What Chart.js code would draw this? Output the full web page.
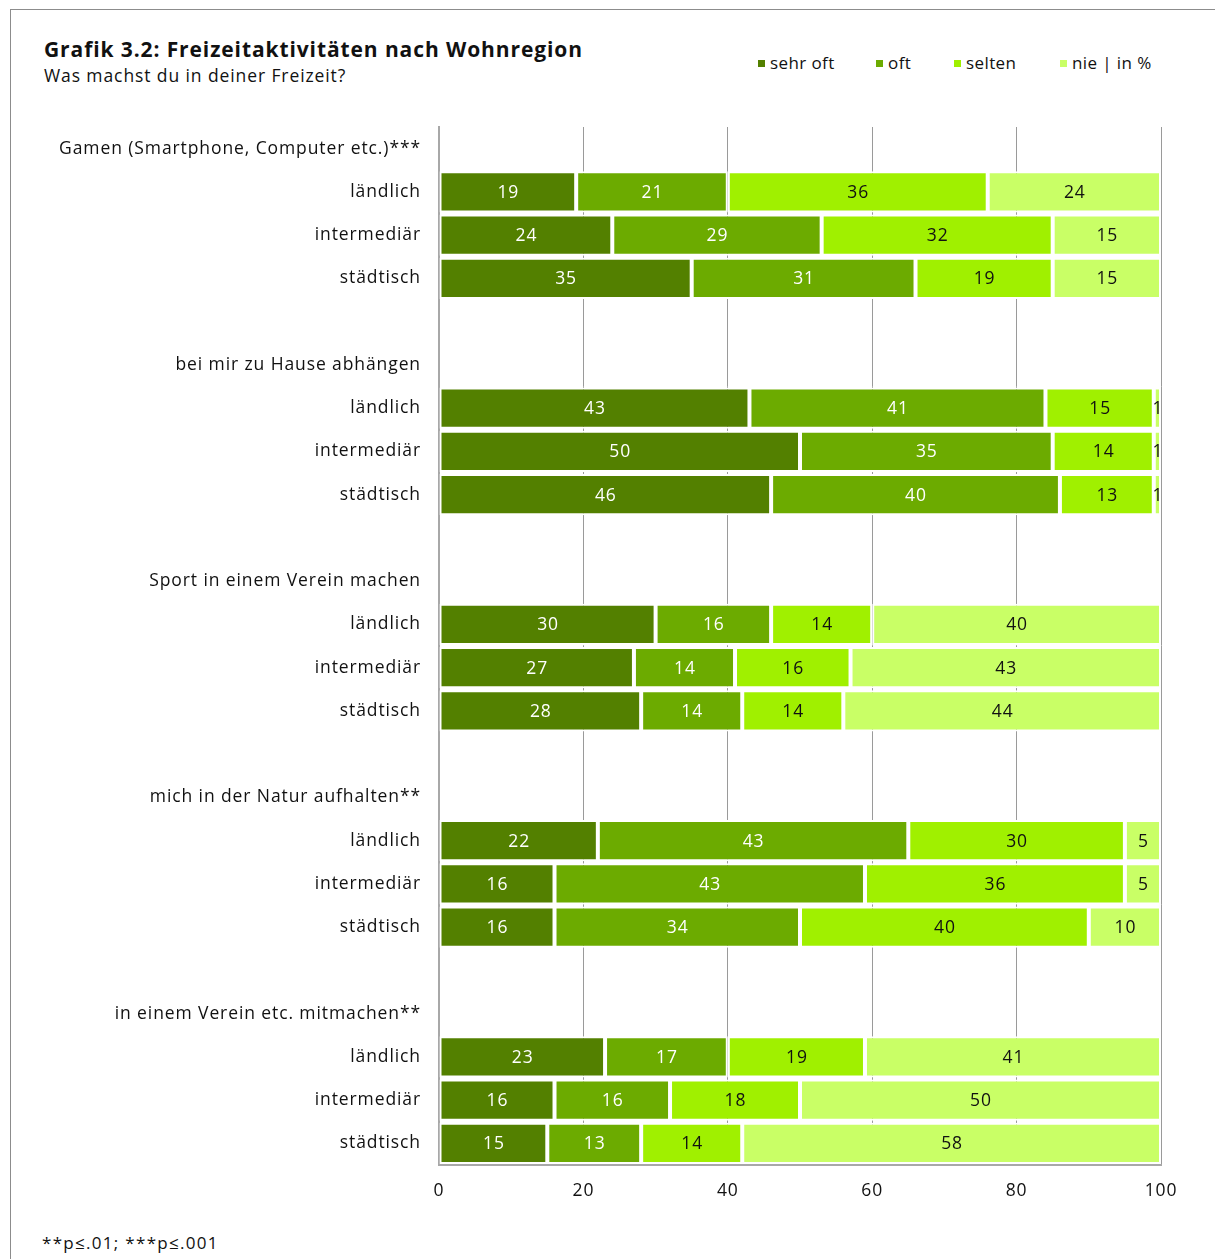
<!DOCTYPE html>
<html lang="de">
<head>
<meta charset="utf-8">
<title>Grafik 3.2: Freizeitaktivitäten nach Wohnregion</title>
<script src="https://cdn.jsdelivr.net/npm/chart.js@4/dist/chart.umd.min.js"></script>
<style>
  html, body { margin: 0; padding: 0; background: #fff; }
  body { width: 1215px; height: 1259px; position: relative; overflow: hidden; font-family: 'Open Sans', 'Liberation Sans', sans-serif; color: #111; }
  .frame { position: absolute; left: 10px; top: 9px; width: 1300px; height: 1400px; border-left: 1px solid #8c8c8c; border-top: 1px solid #8c8c8c; }
  .title { position: absolute; left: 44px; top: 35px; font-size: 21px; font-weight: 700; white-space: nowrap; letter-spacing: 0.9px; }
  .subtitle { position: absolute; left: 44px; top: 63px; font-size: 17.5px; white-space: nowrap; letter-spacing: 0.9px; }
  .legend { position: absolute; top: 51px; left: 0; font-size: 17px; letter-spacing: 0.4px; }
  .legend span { position: absolute; white-space: nowrap; }
  .legend i { position: absolute; width: 7px; height: 7px; top: 9px; }
  .note { position: absolute; left: 42px; top: 1231px; font-size: 17px; white-space: nowrap; letter-spacing: 1.3px; }
  #chart { position: absolute; left: 0; top: 0; }
</style>
</head>
<body>
<div class="frame"></div>
<div class="title">Grafik 3.2: Freizeitaktivitäten nach Wohnregion</div>
<div class="subtitle">Was machst du in deiner Freizeit?</div>
<div class="legend" id="legend"></div>
<div class="note">**p≤.01; ***p≤.001</div>
<canvas id="chart" width="1215" height="1259"></canvas>
<script>
(function () {
  'use strict';

  // ── Data ───────────────────────────────────────────────────────
  const groups = [
    'Gamen (Smartphone, Computer etc.)***',
    'bei mir zu Hause abhängen',
    'Sport in einem Verein machen',
    'mich in der Natur aufhalten**',
    'in einem Verein etc. mitmachen**',
  ];
  const regions = ['ländlich', 'intermediär', 'städtisch'];

  // one value per group × region, in that order
  const sehrOft = [19, 24, 35,  43, 50, 46,  30, 27, 28,  22, 16, 16,  23, 16, 15];
  const oft     = [21, 29, 31,  41, 35, 40,  16, 14, 14,  43, 43, 34,  17, 16, 13];
  const selten  = [36, 32, 19,  15, 14, 13,  14, 16, 14,  30, 36, 40,  19, 18, 14];
  const nie     = [24, 15, 15,   1,  1,  1,  40, 43, 44,   5,  5, 10,  41, 50, 58];

  const seriesNames = ['sehr oft', 'oft', 'selten', 'nie'];
  const legendNames = ['sehr oft', 'oft', 'selten', 'nie | in %'];
  const seriesColors = ['#538000', '#6cab00', '#a0f000', '#c9ff66'];
  const labelColors = ['#ffffff', '#ffffff', '#111111', '#111111'];
  const xTicks = [0, 20, 40, 60, 80, 100];

  // ── Rows: header, three regions, blank spacer ───────────────────
  const rowLabels = [];
  const rowIndex = [];   // index into value arrays, or null
  groups.forEach((g, gi) => {
    rowLabels.push(g); rowIndex.push(null);
    regions.forEach((r, ri) => { rowLabels.push(r); rowIndex.push(gi * 3 + ri); });
    if (gi < groups.length - 1) { rowLabels.push(''); rowIndex.push(null); }
  });

  const seriesValues = [sehrOft, oft, selten, nie];
  const datasets = seriesValues.map((vals, si) => ({
    label: seriesNames[si],
    data: rowIndex.map(i => i === null ? null : vals[i]),
    backgroundColor: seriesColors[si],
    borderColor: '#ffffff',
    borderWidth: 2,
    borderSkipped: false,
    barPercentage: 0.95,
    categoryPercentage: 1,
  }));

  // ── Legend (HTML) ──────────────────────────────────────────────
  const legendX = [758, 876, 954, 1060];
  const legend = document.getElementById('legend');
  legendNames.forEach((name, i) => {
    const s = document.createElement('span');
    s.style.left = legendX[i] + 'px';
    s.innerHTML = '<i style="background:' + seriesColors[i] + '"></i><b style="font-weight:400;margin-left:12px">' + name + '</b>';
    legend.appendChild(s);
  });

  const SPACING = '0.9px';

  // tracked-out text like the original typeface
  const letterSpacing = {
    id: 'letterSpacing',
    beforeDraw(chart) { chart.ctx.letterSpacing = SPACING; },
  };

  // ── Value labels inside bars ───────────────────────────────────
  const valueLabels = {
    id: 'valueLabels',
    afterDatasetsDraw(chart) {
      const ctx = chart.ctx;
      ctx.save();
      ctx.letterSpacing = SPACING;
      ctx.font = '17.5px "Open Sans", "Liberation Sans", sans-serif';
      ctx.textAlign = 'center';
      ctx.textBaseline = 'middle';
      chart.data.datasets.forEach((ds, di) => {
        const meta = chart.getDatasetMeta(di);
        meta.data.forEach((bar, j) => {
          const v = ds.data[j];
          if (v === null || v === undefined) return;
          const p = bar.getCenterPoint();
          ctx.fillStyle = labelColors[di];
          ctx.fillText(String(v), p.x + 0.5, p.y + 1);
        });
      });
      ctx.restore();
    },
  };

  const font = { family: '"Open Sans", "Liberation Sans", sans-serif', size: 17.5 };

  new Chart(document.getElementById('chart').getContext('2d'), {
    type: 'bar',
    data: { labels: rowLabels, datasets },
    plugins: [letterSpacing, valueLabels],
    options: {
      indexAxis: 'y',
      responsive: false,
      animation: false,
      layout: { padding: { left: 0, right: 54, top: 127, bottom: 54 } },
      plugins: { legend: { display: false }, tooltip: { enabled: false } },
      scales: {
        x: {
          stacked: true,
          min: 0,
          max: 100,
          afterBuildTicks: scale => { scale.ticks = xTicks.map(v => ({ value: v })); },
          afterFit: scale => { scale.height = 40; },
          ticks: { color: '#111', font, padding: 16 },
          grid: { color: '#9a9a9a', lineWidth: 1, drawTicks: false },
          border: { color: '#a8a8a8', width: 2 },
        },
        y: {
          stacked: true,
          afterFit: scale => { scale.width = 439; },
          ticks: { color: '#111', font, padding: 18, autoSkip: false },
          grid: { display: false, drawTicks: false },
          border: { color: '#a8a8a8', width: 2 },
        },
      },
    },
  });
})();
</script>
</body>
</html>
